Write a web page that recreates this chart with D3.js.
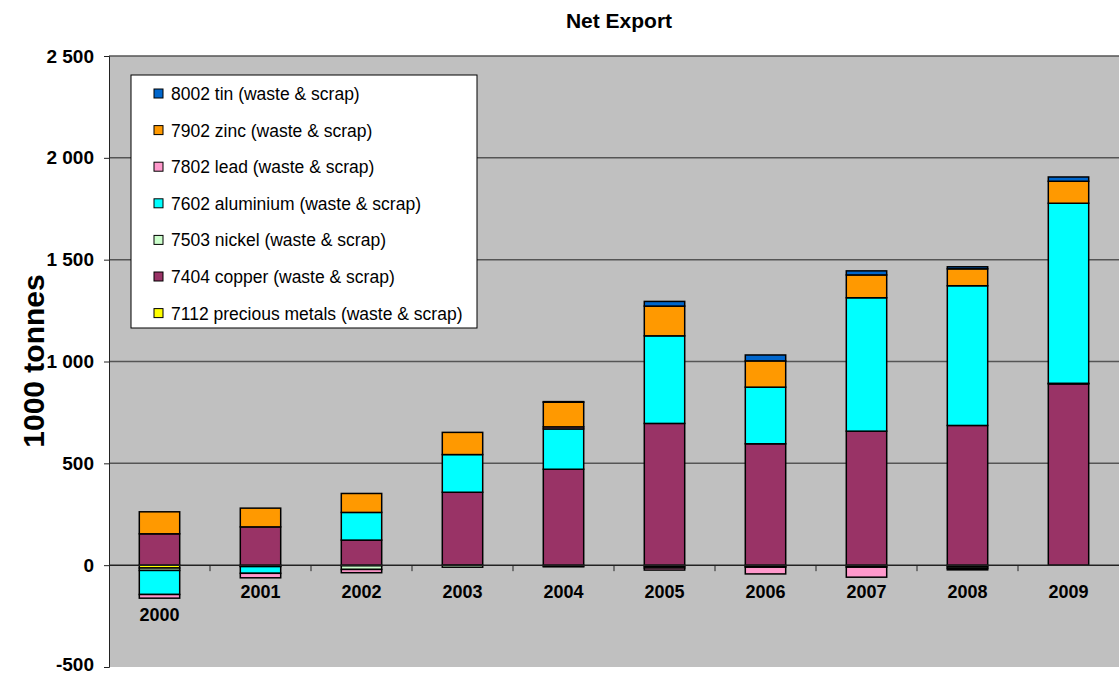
<!DOCTYPE html>
<html>
<head>
<meta charset="utf-8">
<script src="https://cdn.jsdelivr.net/npm/d3@7"></script>
<style>
  body { margin: 0; background: #fff; }
  text { font-family: "Liberation Sans", Arial, sans-serif; }
</style>
</head>
<body>
<div id="chart"></div>
<script>
var years = ["2000", "2001", "2002", "2003", "2004", "2005", "2006", "2007", "2008", "2009"];

// 1000 tonnes
var precious  = [-14, -4, -3, 0, -4, -6, -5, -4, -8, 0];
var copper    = [154, 188, 123, 358, 471, 696, 596, 658, 686, 890];
var nickel    = [-12, -3, -18, -10, -4, -8, -5, -6, -8, 3];
var aluminium = [-118, -33, 136, 185, 198, 430, 278, 655, 686, 884];
var lead      = [-18, -22, -16, 0, 10, -10, -33, -49, -7, 0];
var zinc      = [108, 92, 93, 109, 121, 146, 129, 112, 83, 108];
var tin       = [0, 0, 0, 0, 3, 23, 29, 20, 10, 21];

var seriesNames = ["7112 precious metals (waste & scrap)", "7404 copper (waste & scrap)",
	"7503 nickel (waste & scrap)", "7602 aluminium (waste & scrap)", "7802 lead (waste & scrap)",
	"7902 zinc (waste & scrap)", "8002 tin (waste & scrap)"];
var seriesValues = [precious, copper, nickel, aluminium, lead, zinc, tin];
var colors = ["#FFFF00", "#993366", "#CCFFCC", "#00FFFF", "#FF99CC", "#FF9900", "#0066CC"];

var yTicks = [-500, 0, 500, 1000, 1500, 2000, 2500];
var yTickLabels = ["-500", "0", "500", "1 000", "1 500", "2 000", "2 500"];

var w = 1119, h = 674,
	plotL = 109, plotR = 1119, plotT = 56, plotB = 667;

var svg = d3.select("#chart").append("svg")
	.attr("width", w)
	.attr("height", h);

var rows = years.map(function(y, i) {
	var r = { year: y };
	seriesNames.forEach(function(s, j) { r[s] = seriesValues[j][i]; });
	return r;
});

var stack = d3.stack().keys(seriesNames).offset(d3.stackOffsetDiverging);
var layers = stack(rows);

var x = d3.scaleBand().domain(years).range([plotL, plotR]).paddingInner(0.6).paddingOuter(0.3);
var y = d3.scaleLinear().domain([-500, 2500]).range([plotB, plotT]);

// plot area
svg.append("rect")
	.attr("x", plotL).attr("y", plotT)
	.attr("width", plotR - plotL).attr("height", plotB - plotT)
	.style("fill", "#C0C0C0");

// gridlines
svg.append("g").selectAll("line")
	.data(yTicks.filter(function(d) { return d != 0 && d != -500; }))
	.enter().append("line")
	.attr("x1", plotL).attr("x2", plotR)
	.attr("y1", function(d) { return y(d); })
	.attr("y2", function(d) { return y(d); })
	.style("stroke", "#555")
	.style("stroke-width", 1.5);

// y axis
var yAxis = svg.append("g")
	.attr("transform", "translate(" + plotL + ",0)")
	.call(d3.axisLeft(y).tickValues(yTicks).tickSize(5).tickPadding(10)
		.tickFormat(function(d, i) { return yTickLabels[i]; }));
yAxis.select(".domain").style("stroke", "#222");
yAxis.selectAll(".tick line").style("stroke", "#222");
yAxis.selectAll("text")
	.style("font-size", "19px")
	.style("font-weight", "bold")
	.style("fill", "#000")
	.style("font-family", "'Liberation Sans', Arial, sans-serif");
// keep the bottom label inside the picture
yAxis.selectAll(".tick text").filter(function(d) { return d == -500; }).attr("dy", "0.2em");

// bars
svg.append("g").selectAll("g")
	.data(layers)
	.enter().append("g")
	.style("fill", function(d, i) { return colors[i]; })
	.selectAll("rect")
	.data(function(d) { return d; })
	.enter().append("rect")
	.filter(function(d) { return d[1] - d[0] != 0; })
	.attr("x", function(d) { return x(d.data.year); })
	.attr("y", function(d) { return y(d[1]); })
	.attr("width", x.bandwidth())
	.attr("height", function(d) { return Math.abs(y(d[0]) - y(d[1])); })
	.style("stroke", "#000")
	.style("stroke-width", 1.5);

// zero axis line with ticks between categories
svg.append("line")
	.attr("x1", plotL).attr("x2", plotR)
	.attr("y1", y(0)).attr("y2", y(0))
	.style("stroke", "#222").style("stroke-width", 1.5);

svg.append("g").selectAll("line")
	.data(years.slice(1))
	.enter().append("line")
	.attr("x1", function(d) { return x(d) - x.step() * x.paddingInner() / 2; })
	.attr("x2", function(d) { return x(d) - x.step() * x.paddingInner() / 2; })
	.attr("y1", y(0)).attr("y2", y(0) + 6)
	.style("stroke", "#222");

// category labels, pushed below bars that reach far down
var mins = years.map(function(yr, i) {
	return d3.min(layers, function(l) { return l[i][0]; });
});
svg.append("g").selectAll("text")
	.data(years)
	.enter().append("text")
	.attr("x", function(d) { return x(d) + x.bandwidth() / 2; })
	.attr("y", function(d, i) {
		var below = y(mins[i]) + 23;
		return below > y(0) + 40 ? below : y(0) + 33;
	})
	.style("text-anchor", "middle")
	.style("font-size", "18px")
	.style("font-weight", "bold")
	.text(function(d) { return d; });

// title
svg.append("text")
	.attr("x", 619).attr("y", 28)
	.style("text-anchor", "middle")
	.style("font-size", "21px")
	.style("font-weight", "bold")
	.text("Net Export");

svg.append("text")
	.attr("transform", "translate(44,361) rotate(-90)")
	.style("text-anchor", "middle")
	.style("font-size", "30px")
	.style("font-weight", "bold")
	.text("1000 tonnes");

// legend
var legend = svg.append("g").attr("transform", "translate(131,75)");
legend.append("rect")
	.attr("width", 346).attr("height", 253)
	.style("fill", "#fff")
	.style("stroke", "#000")
	.style("stroke-width", 1);

var items = legend.selectAll(".item")
	.data(seriesNames.map(function(s, i) { return i; }).reverse())
	.enter().append("g")
	.attr("class", "item")
	.attr("transform", function(d, i) { return "translate(23," + (19 + i * 36.6) + ")"; });

items.append("rect")
	.attr("x", 0).attr("y", -5)
	.attr("width", 9).attr("height", 9)
	.style("fill", function(d) { return colors[d]; })
	.style("stroke", "#000")
	.style("stroke-width", 1);

items.append("text")
	.attr("x", 17).attr("y", 6)
	.style("font-size", "17.5px")
	.text(function(d) { return seriesNames[d]; });
</script>
</body>
</html>
